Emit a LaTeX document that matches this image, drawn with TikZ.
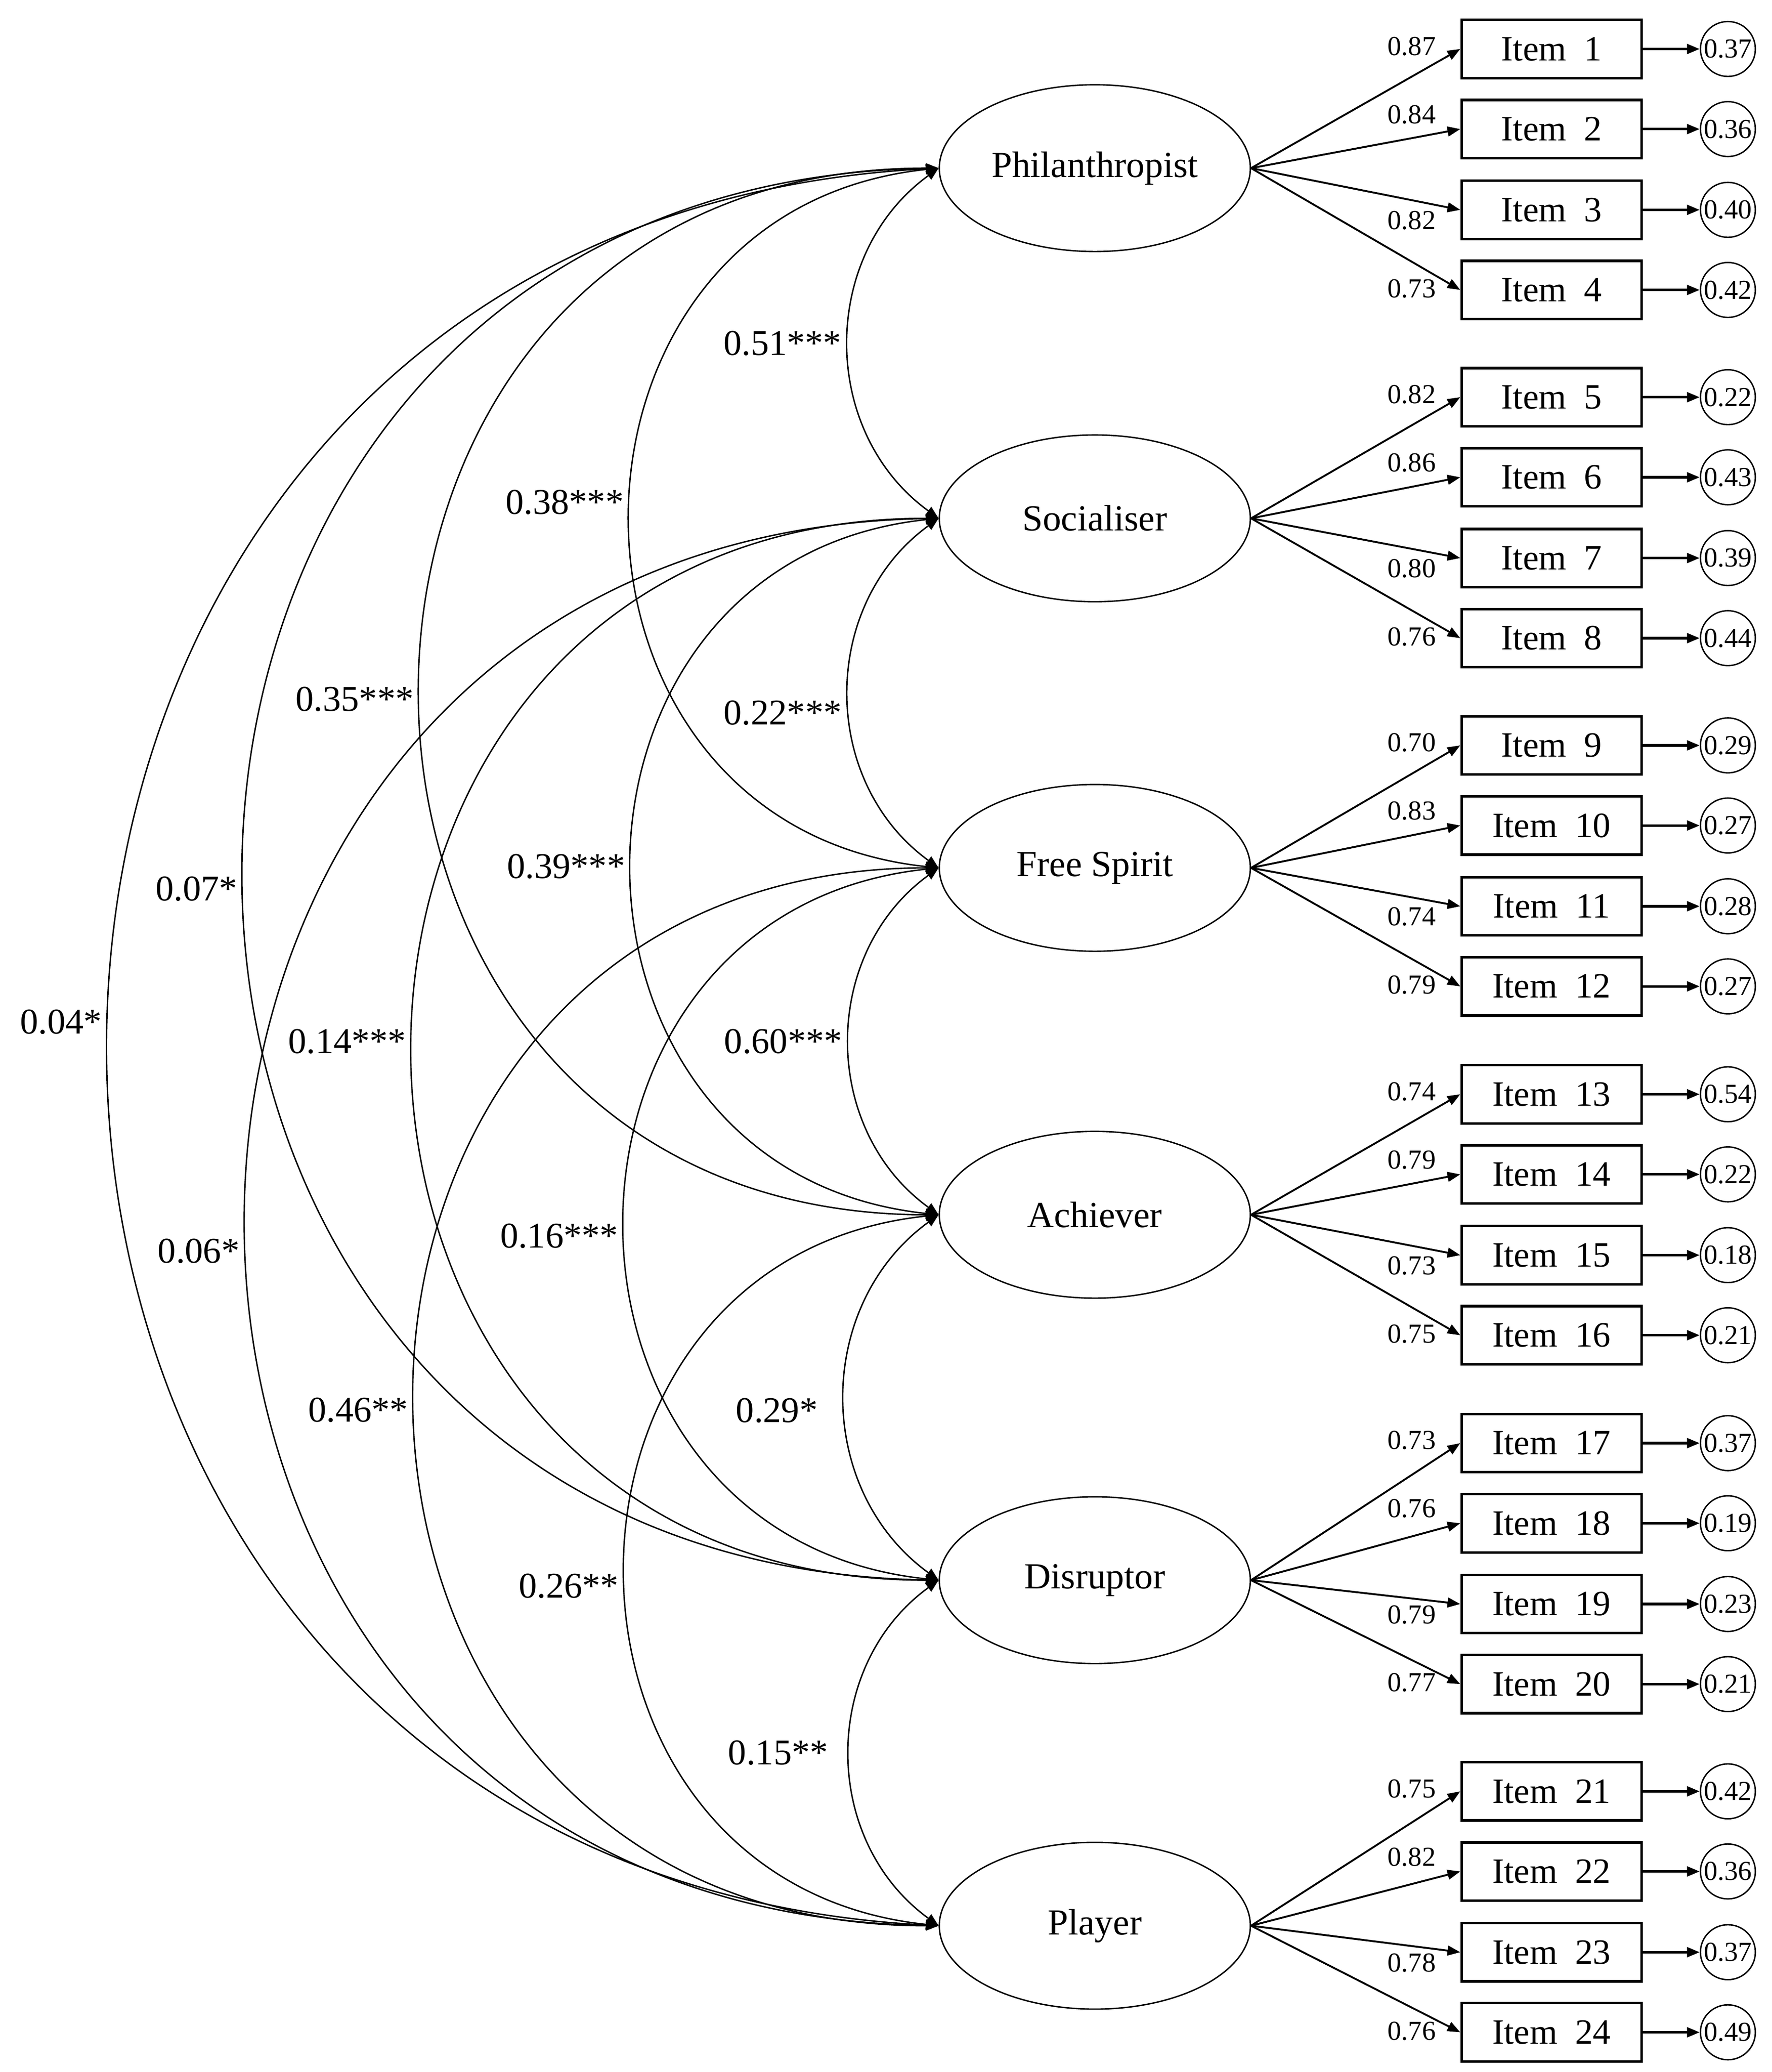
\documentclass[tikz,border=0pt]{standalone}
\usepackage{fontspec}
\setmainfont{Liberation Serif}
\usetikzlibrary{arrows.meta,positioning,calc,shapes}

\begin{document}
\begin{tikzpicture}[x=0.02cm,y=0.02cm,>={Triangle[length=5.5pt,width=4.2pt]},
				line width=0.6pt]
				\tikzstyle{factor}=[ellipse,draw,minimum width=4.7cm,minimum height=2.52cm,inner sep=0pt,font=\fontsize{15.8}{18}\selectfont]
				\tikzstyle{itembox}=[rectangle,draw,line width=1.1pt,minimum width=2.72cm,minimum height=0.88cm,inner sep=0pt,font=\fontsize{15.3}{18}\selectfont]
				\tikzstyle{resid}=[circle,draw,minimum size=0.83cm,inner sep=0pt,font=\fontsize{11.8}{14}\selectfont]
				\tikzstyle{load}=[anchor=east,inner sep=0pt,font=\fontsize{11.8}{14}\selectfont]
				\tikzstyle{loadarrow}=[->,line width=0.8pt]
				\tikzstyle{residarrow}=[->,line width=1.1pt]
				\tikzstyle{cov}=[<->]
				\tikzstyle{covlbl}=[left,inner sep=3pt,font=\fontsize{15.6}{18}\selectfont]
				\tikzstyle{span1}=[bend right=54,looseness=1.08]
				\tikzstyle{span2}=[bend right=84,looseness=1.51]
				\tikzstyle{span3}=[bend right=90,looseness=1.69]
				\tikzstyle{span4}=[bend right=89,looseness=1.68]
				\tikzstyle{span5}=[bend right=87,looseness=1.615]
				\useasboundingbox (0,0) rectangle (1338.5,-1565);

				\node[factor] (phil) at (827,-127) {Philanthropist};
				\node[factor] (soc)  [below = 2.75cm of phil] {Socialiser};
				\node[factor] (free) [below = 2.74cm of soc]  {Free Spirit};
				\node[factor] (ach)  [below = 2.70cm of free] {Achiever};
				\node[factor] (dis)  [below = 2.98cm of ach]  {Disruptor};
				\node[factor] (play) [below = 2.68cm of dis]  {Player};

				% items, loadings and residuals
				\foreach \n/\y/\f/\l/\r/\dy in {
					1/37/phil/0.87/0.37/0.04, 2/97.5/phil/0.84/0.36/0.22,
					3/158.5/phil/0.82/0.40/-0.16, 4/219/phil/0.73/0.42/0.02,
					5/300/soc/0.82/0.22/0.04, 6/360.5/soc/0.86/0.43/0.22,
					7/421.5/soc/0.80/0.39/-0.16, 8/482/soc/0.76/0.44/0.02,
					9/563/free/0.70/0.29/0.04, 10/623.5/free/0.83/0.27/0.22,
					11/684.5/free/0.74/0.28/-0.16, 12/745/free/0.79/0.27/0.02,
					13/826.5/ach/0.74/0.54/0.04, 14/887/ach/0.79/0.22/0.22,
					15/948/ach/0.73/0.18/-0.16, 16/1008.5/ach/0.75/0.21/0.02,
					17/1090/dis/0.73/0.37/0.04, 18/1150.5/dis/0.76/0.19/0.22,
					19/1211.5/dis/0.79/0.23/-0.16, 20/1272/dis/0.77/0.21/0.02,
					21/1353/play/0.75/0.42/0.04, 22/1413.5/play/0.82/0.36/0.22,
					23/1474.5/play/0.78/0.37/-0.16, 24/1535/play/0.76/0.49/0.02}{
					\node[itembox] (I\n) at (1172,-\y) {Item~~\n};
					\node[resid] (E\n) [right = 0.86cm of I\n] {\r};
					\draw[loadarrow] (\f.east) -- (I\n.west);
					\draw[residarrow] (I\n) -- (E\n);
					\node[load] at ([xshift=-0.36cm,yshift=\dy cm]I\n.west) {\l};
				}

				% correlations between factors
				\draw[cov] (phil.west) to[span1] node[covlbl] {0.51***} (soc.west);
				\draw[cov] (soc.west) to[span1] node[covlbl,yshift=-0.3cm] {0.22***} (free.west);
				\draw[cov] (free.west) to[span1] node[covlbl] {0.60***} (ach.west);
				\draw[cov] (ach.west) to[span1] node[covlbl,xshift=-0.3cm,yshift=-0.2cm] {0.29*} (dis.west);
				\draw[cov] (dis.west) to[span1] node[covlbl,xshift=-0.22cm] {0.15**} (play.west);
				\draw[cov] (phil.west) to[span2] node[covlbl,yshift=0.24cm] {0.38***} (free.west);
				\draw[cov] (soc.west) to[span2] node[covlbl] {0.39***} (ach.west);
				\draw[cov] (free.west) to[span2] node[covlbl,yshift=-0.18cm] {0.16***} (dis.west);
				\draw[cov] (ach.west) to[span2] node[covlbl,yshift=-0.24cm] {0.26**} (play.west);
				\draw[cov] (phil.west) to[span3] node[covlbl,yshift=-0.12cm] {0.35***} (ach.west);
				\draw[cov] (soc.west) to[span3] node[covlbl,yshift=0.12cm] {0.14***} (dis.west);
				\draw[cov] (free.west) to[span3] node[covlbl,yshift=-0.2cm] {0.46**} (play.west);
				\draw[cov] (phil.west) to[span4] node[covlbl,yshift=-0.22cm] {0.07*} (dis.west);
				\draw[cov] (soc.west) to[span4] node[covlbl,yshift=-0.44cm] {0.06*} (play.west);
				\draw[cov] (phil.west) to[span5] node[covlbl,yshift=0.38cm] {0.04*} (play.west);
\end{tikzpicture}
\end{document}
